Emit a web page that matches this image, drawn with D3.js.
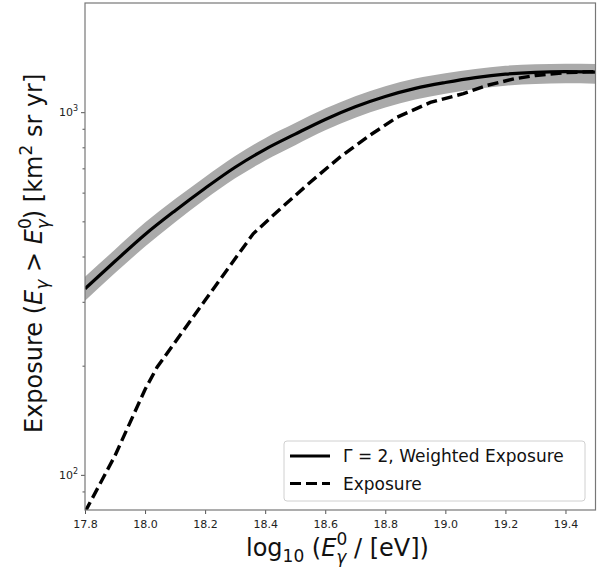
<!DOCTYPE html>
<html><head><meta charset="utf-8">
<script src="https://cdn.jsdelivr.net/npm/d3@7"></script>
<style>body{margin:0;background:#fff}svg{display:block}text{font-family:"DejaVu Sans",sans-serif}</style>
</head><body>
<svg id="c" width="608" height="573"></svg>
<script>
// ---- data ----
const energy = [17.8,17.9,18.0,18.1,18.2,18.3,18.4,18.5,18.6,18.7,18.8,18.9,19.0,19.1,19.2,19.3,19.4,19.5];
const weighted = [326,388,460,535,617,705,790,870,955,1035,1105,1163,1207,1245,1273,1288,1293,1290];
const bandUpper = [352,418,496,576,663,757,848,933,1023,1107,1179,1238,1280,1316,1343,1355,1360,1357];
const bandLower = [302,360,426,497,575,657,736,811,891,965,1030,1084,1124,1158,1183,1196,1201,1198];
const expEnergy = [17.8,17.9,18.0,18.04,18.2,18.36,18.45,18.55,18.65,18.75,18.84,18.95,19.06,19.14,19.23,19.3,19.4,19.5];
const exposure = [79,113,172,198,303,462,541,641,753,865,969,1064,1125,1186,1236,1262,1285,1294];
const xTicks = [17.8,18.0,18.2,18.4,18.6,18.8,19.0,19.2,19.4];
const yMajor = [100,1000];
const yMinor = [90,200,300,400,500,600,700,800,900];
const legendLabels = ["Γ = 2, Weighted Exposure","Exposure"];

const svg = d3.select("#c");
const L=85,R=595.5,T=3,B=510;
const x = d3.scaleLinear().domain([17.8,19.5]).range([L,R]);
const y = d3.scaleLog().domain([80,2000]).range([B,T]);

svg.append("clipPath").attr("id","clip").append("rect")
  .attr("x",L).attr("y",T).attr("width",R-L).attr("height",B-T);
const g = svg.append("g").attr("clip-path","url(#clip)");

const bandData = energy.map((e,i)=>({e,u:bandUpper[i],l:bandLower[i]}));
g.append("path").datum(bandData)
  .attr("d",d3.area().curve(d3.curveMonotoneX).x(d=>x(d.e)).y0(d=>y(d.l)).y1(d=>y(d.u)))
  .attr("fill","#aaaaaa");
g.append("path").datum(energy.map((e,i)=>[e,weighted[i]]))
  .attr("d",d3.line().curve(d3.curveMonotoneX).x(d=>x(d[0])).y(d=>y(d[1])))
  .attr("fill","none").attr("stroke","#000").attr("stroke-width",3.2);
g.append("path").datum(expEnergy.map((e,i)=>[e,exposure[i]]))
  .attr("d",d3.line().x(d=>x(d[0])).y(d=>y(d[1])))
  .attr("fill","none").attr("stroke","#000").attr("stroke-width",3.4)
  .attr("stroke-dasharray","11,5");

// axes
const ax = svg.append("g").attr("transform",`translate(0,${B})`)
  .call(d3.axisBottom(x).tickValues(xTicks).tickFormat(d3.format(".1f")).tickSize(4).tickSizeOuter(0));
ax.select(".domain").remove();
ax.selectAll("line").attr("stroke","#555");
ax.selectAll("text").attr("font-size",11).attr("fill","#222").attr("dy","1.0em");

const ay = svg.append("g").attr("transform",`translate(${L},0)`)
  .call(d3.axisLeft(y).tickValues(yMajor).tickFormat("").tickSize(4).tickSizeOuter(0));
ay.select(".domain").remove();
ay.selectAll("line").attr("stroke","#555");
const aym = svg.append("g").attr("transform",`translate(${L},0)`)
  .call(d3.axisLeft(y).tickValues(yMinor).tickFormat("").tickSize(2.5).tickSizeOuter(0));
aym.select(".domain").remove();
aym.selectAll("line").attr("stroke","#555");
yMajor.forEach(v=>{
  const t = svg.append("text").attr("x",L-7).attr("y",y(v)+4).attr("text-anchor","end")
    .attr("font-size",11).attr("fill","#222");
  t.append("tspan").text("10");
  t.append("tspan").attr("dy",-5).attr("font-size",8).text(String(Math.round(Math.log10(v))));
});

// frame
svg.append("rect").attr("x",L).attr("y",T).attr("width",R-L).attr("height",B-T)
  .attr("fill","none").attr("stroke","#777").attr("stroke-width",1.2);

// x label
const xl = svg.append("text").attr("x",246).attr("y",556).attr("font-size",24).attr("fill","#111");
xl.append("tspan").text("log");
xl.append("tspan").attr("dy",6).attr("font-size",17).text("10");
xl.append("tspan").attr("dy",-6).text(" (");
xl.append("tspan").attr("font-style","italic").text("E");
xl.append("tspan").attr("dy",-11).attr("font-size",17).text("0");
xl.append("tspan").attr("dx",-11).attr("dy",18).attr("font-size",17).attr("font-style","italic").text("γ");
xl.append("tspan").attr("dy",-7).text(" / [eV])");

// y label
const yl = svg.append("text").attr("transform","translate(42,433) rotate(-90)")
  .attr("font-size",24).attr("fill","#111");
yl.append("tspan").text("Exposure (");
yl.append("tspan").attr("font-style","italic").text("E");
yl.append("tspan").attr("dy",6).attr("font-size",17).attr("font-style","italic").text("γ");
yl.append("tspan").attr("dy",-6).text(" > ");
yl.append("tspan").attr("font-style","italic").text("E");
yl.append("tspan").attr("dy",-11).attr("font-size",17).text("0");
yl.append("tspan").attr("dx",-11).attr("dy",18).attr("font-size",17).attr("font-style","italic").text("γ");
yl.append("tspan").attr("dy",-7).text(") [km");
yl.append("tspan").attr("dy",-10).attr("font-size",17).text("2");
yl.append("tspan").attr("dy",10).text(" sr yr]");

// legend
const lg = svg.append("g");
lg.append("rect").attr("x",284).attr("y",441).attr("width",301).attr("height",60).attr("rx",3)
  .attr("fill","#fff").attr("fill-opacity",0.85).attr("stroke","#d0d0d0");
[0,1].forEach(i=>{
  const yy = 456 + i*27.5;
  lg.append("line").attr("x1",290).attr("x2",330).attr("y1",yy).attr("y2",yy)
    .attr("stroke","#000").attr("stroke-width",3.2)
    .attr("stroke-dasharray", i===1 ? "11,5" : null);
  lg.append("text").attr("x",343).attr("y",yy+6).attr("font-size",17).attr("fill","#111").text(legendLabels[i]);
});
</script>
</body></html>
